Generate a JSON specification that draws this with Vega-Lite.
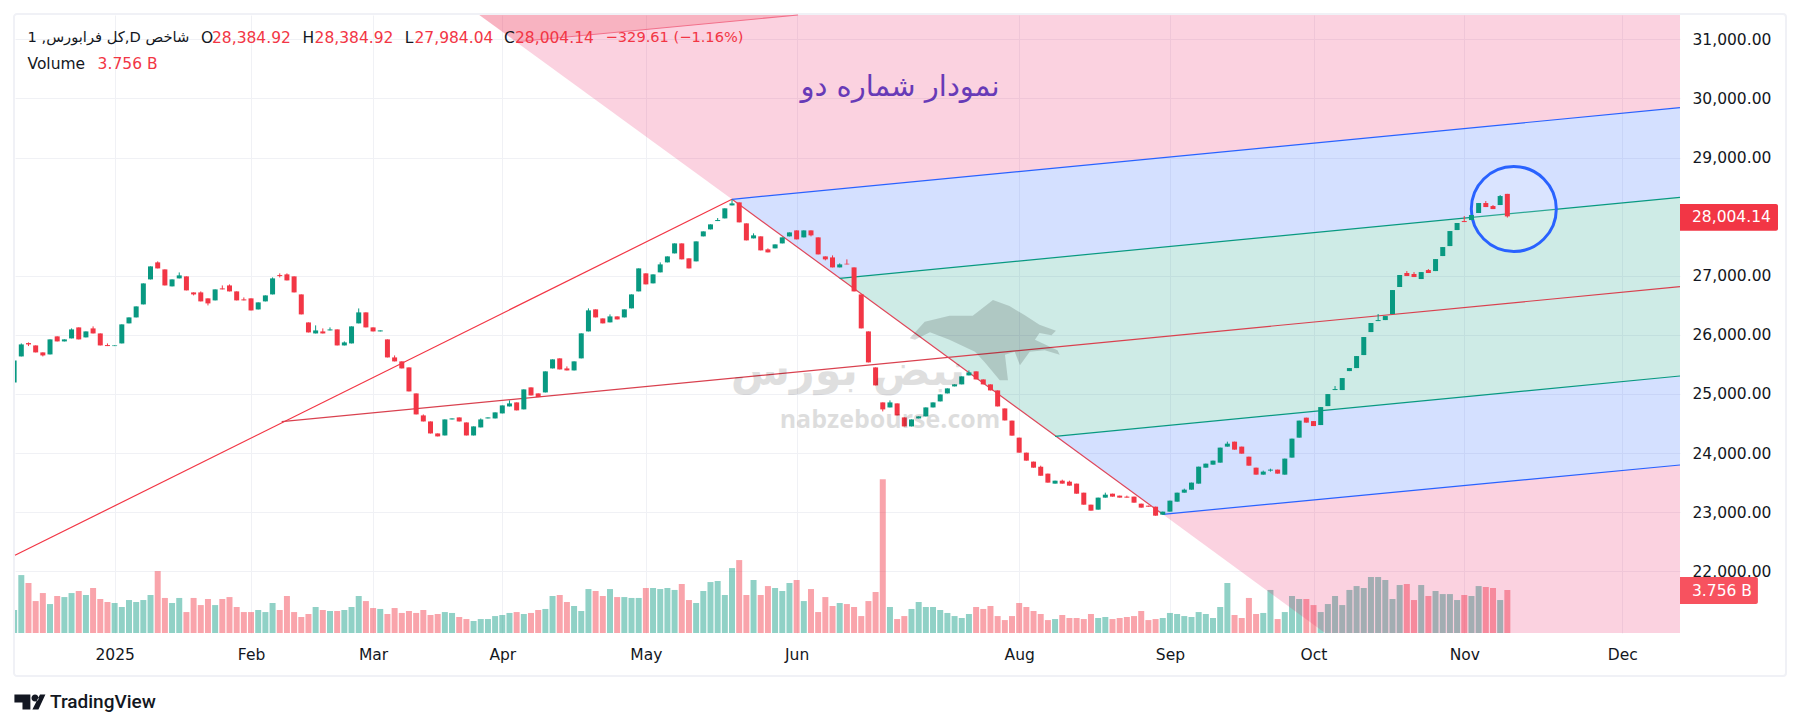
{"$schema":"https://vega.github.io/schema/vega-lite/v6.json","width":1665,"height":618,"autosize":"none","padding":{"left":15,"top":15,"right":120,"bottom":95},"background":"#ffffff",
"config":{"view":{"stroke":null},"font":"DejaVu Sans"},
"datasets":{
"candles":[
{"i":0,"o":25195,"h":25567,"l":25195,"c":25567,"v":2.01},{"i":1,"o":25635,"h":25855,"l":25635,"c":25838,"v":5.06},{"i":2,"o":25861,"h":25872,"l":25810,"c":25838,"v":4.37},{"i":3,"o":25821,"h":25821,"l":25703,"c":25703,"v":2.79},{"i":4,"o":25703,"h":25703,"l":25635,"c":25652,"v":3.49},{"i":5,"o":25669,"h":25923,"l":25669,"c":25923,"v":2.53},{"i":6,"o":25974,"h":25974,"l":25889,"c":25889,"v":3.23},{"i":7,"o":25889,"h":25923,"l":25889,"c":25923,"v":3.14},{"i":8,"o":25940,"h":26109,"l":25940,"c":26092,"v":3.49},{"i":9,"o":26126,"h":26126,"l":25923,"c":25923,"v":3.67},
{"i":10,"o":25957,"h":26058,"l":25957,"c":26058,"v":3.32},{"i":11,"o":26109,"h":26143,"l":26024,"c":26024,"v":3.93},{"i":12,"o":26024,"h":26024,"l":25821,"c":25821,"v":2.97},{"i":13,"o":25827,"h":25855,"l":25810,"c":25810,"v":2.71},{"i":14,"o":25810,"h":25821,"l":25810,"c":25821,"v":2.62},{"i":15,"o":25855,"h":26177,"l":25855,"c":26177,"v":2.27},{"i":16,"o":26194,"h":26295,"l":26194,"c":26295,"v":2.88},{"i":17,"o":26295,"h":26481,"l":26295,"c":26481,"v":2.71},{"i":18,"o":26515,"h":26870,"l":26515,"c":26870,"v":2.88},{"i":19,"o":26938,"h":27158,"l":26938,"c":27158,"v":3.32},
{"i":20,"o":27226,"h":27243,"l":27124,"c":27124,"v":5.41},{"i":21,"o":27107,"h":27107,"l":26836,"c":26836,"v":3.06},{"i":22,"o":26820,"h":26938,"l":26820,"c":26938,"v":2.62},{"i":23,"o":26955,"h":27056,"l":26955,"c":27006,"v":3.06},{"i":24,"o":26989,"h":26989,"l":26752,"c":26752,"v":1.83},{"i":25,"o":26718,"h":26718,"l":26667,"c":26684,"v":3.06},{"i":26,"o":26718,"h":26735,"l":26566,"c":26566,"v":2.44},{"i":27,"o":26617,"h":26617,"l":26498,"c":26532,"v":2.97},{"i":28,"o":26583,"h":26769,"l":26583,"c":26769,"v":2.44},{"i":29,"o":26786,"h":26836,"l":26769,"c":26769,"v":2.97},
{"i":30,"o":26836,"h":26853,"l":26735,"c":26735,"v":3.14},{"i":31,"o":26735,"h":26735,"l":26583,"c":26583,"v":2.27},{"i":32,"o":26600,"h":26633,"l":26583,"c":26583,"v":1.83},{"i":33,"o":26617,"h":26617,"l":26413,"c":26413,"v":1.83},{"i":34,"o":26430,"h":26549,"l":26430,"c":26549,"v":2.01},{"i":35,"o":26566,"h":26667,"l":26566,"c":26667,"v":1.83},{"i":36,"o":26684,"h":26972,"l":26684,"c":26955,"v":2.62},{"i":37,"o":27011,"h":27040,"l":26972,"c":26994,"v":2.01},{"i":38,"o":27023,"h":27040,"l":26921,"c":26921,"v":3.23},{"i":39,"o":26989,"h":26989,"l":26718,"c":26718,"v":1.83},
{"i":40,"o":26684,"h":26684,"l":26346,"c":26346,"v":1.4},{"i":41,"o":26210,"h":26210,"l":26041,"c":26041,"v":1.66},{"i":42,"o":26024,"h":26160,"l":26024,"c":26075,"v":2.27},{"i":43,"o":26058,"h":26109,"l":26024,"c":26024,"v":2.01},{"i":44,"o":26075,"h":26126,"l":26075,"c":26092,"v":1.92},{"i":45,"o":26092,"h":26092,"l":25821,"c":25821,"v":1.92},{"i":46,"o":25821,"h":25889,"l":25821,"c":25872,"v":2.01},{"i":47,"o":25855,"h":26143,"l":25855,"c":26143,"v":2.27},{"i":48,"o":26194,"h":26447,"l":26194,"c":26380,"v":3.23},{"i":49,"o":26380,"h":26380,"l":26126,"c":26126,"v":2.79},
{"i":50,"o":26126,"h":26126,"l":26058,"c":26058,"v":2.18},{"i":51,"o":26058,"h":26075,"l":26058,"c":26075,"v":2.1},{"i":52,"o":25923,"h":25923,"l":25618,"c":25618,"v":1.66},{"i":53,"o":25618,"h":25652,"l":25551,"c":25551,"v":2.18},{"i":54,"o":25551,"h":25551,"l":25432,"c":25432,"v":1.75},{"i":55,"o":25449,"h":25449,"l":25043,"c":25043,"v":1.92},{"i":56,"o":25009,"h":25009,"l":24654,"c":24654,"v":1.75},{"i":57,"o":24637,"h":24654,"l":24535,"c":24535,"v":2.01},{"i":58,"o":24535,"h":24535,"l":24332,"c":24332,"v":1.57},{"i":59,"o":24332,"h":24332,"l":24282,"c":24282,"v":1.66},
{"i":60,"o":24298,"h":24569,"l":24298,"c":24569,"v":1.83},{"i":61,"o":24569,"h":24586,"l":24569,"c":24586,"v":1.75},{"i":62,"o":24603,"h":24603,"l":24535,"c":24535,"v":1.4},{"i":63,"o":24518,"h":24518,"l":24298,"c":24298,"v":1.22},{"i":64,"o":24298,"h":24451,"l":24298,"c":24451,"v":1.05},{"i":65,"o":24434,"h":24586,"l":24434,"c":24569,"v":1.22},{"i":66,"o":24586,"h":24603,"l":24586,"c":24603,"v":1.22},{"i":67,"o":24586,"h":24688,"l":24586,"c":24688,"v":1.48},{"i":68,"o":24671,"h":24806,"l":24671,"c":24806,"v":1.57},{"i":69,"o":24789,"h":24891,"l":24789,"c":24840,"v":1.75},
{"i":70,"o":24857,"h":24857,"l":24722,"c":24722,"v":1.83},{"i":71,"o":24739,"h":25077,"l":24739,"c":25077,"v":1.66},{"i":72,"o":25111,"h":25111,"l":24975,"c":24975,"v":1.75},{"i":73,"o":25009,"h":25009,"l":24947,"c":24947,"v":2.01},{"i":74,"o":25026,"h":25382,"l":25026,"c":25382,"v":2.1},{"i":75,"o":25432,"h":25585,"l":25432,"c":25585,"v":3.23},{"i":76,"o":25602,"h":25602,"l":25415,"c":25415,"v":3.32},{"i":77,"o":25432,"h":25466,"l":25398,"c":25398,"v":2.71},{"i":78,"o":25398,"h":25551,"l":25398,"c":25551,"v":2.36},{"i":79,"o":25602,"h":26025,"l":25602,"c":26025,"v":1.92},
{"i":80,"o":26058,"h":26448,"l":26058,"c":26414,"v":3.84},{"i":81,"o":26431,"h":26431,"l":26295,"c":26295,"v":3.67},{"i":82,"o":26278,"h":26278,"l":26194,"c":26194,"v":3.23},{"i":83,"o":26211,"h":26346,"l":26211,"c":26312,"v":3.84},{"i":84,"o":26312,"h":26312,"l":26261,"c":26261,"v":3.14},{"i":85,"o":26295,"h":26431,"l":26295,"c":26431,"v":3.14},{"i":86,"o":26448,"h":26684,"l":26448,"c":26684,"v":3.06},{"i":87,"o":26735,"h":27124,"l":26735,"c":27124,"v":3.06},{"i":88,"o":27040,"h":27040,"l":26854,"c":26854,"v":3.93},{"i":89,"o":26871,"h":27023,"l":26871,"c":27023,"v":3.93},
{"i":90,"o":27057,"h":27226,"l":27057,"c":27192,"v":3.84},{"i":91,"o":27226,"h":27327,"l":27226,"c":27327,"v":3.93},{"i":92,"o":27378,"h":27547,"l":27378,"c":27547,"v":3.76},{"i":93,"o":27547,"h":27547,"l":27277,"c":27277,"v":4.28},{"i":94,"o":27294,"h":27294,"l":27124,"c":27124,"v":2.88},{"i":95,"o":27243,"h":27581,"l":27243,"c":27581,"v":2.62},{"i":96,"o":27666,"h":27750,"l":27666,"c":27750,"v":3.67},{"i":97,"o":27784,"h":27869,"l":27784,"c":27869,"v":4.45},{"i":98,"o":27925,"h":27976,"l":27925,"c":27942,"v":4.54},{"i":99,"o":27970,"h":28140,"l":27970,"c":28140,"v":3.32},
{"i":100,"o":28190,"h":28292,"l":28190,"c":28224,"v":5.67},{"i":101,"o":28241,"h":28241,"l":27903,"c":27903,"v":6.37},{"i":102,"o":27886,"h":27886,"l":27598,"c":27598,"v":3.32},{"i":103,"o":27632,"h":27717,"l":27632,"c":27683,"v":4.63},{"i":104,"o":27666,"h":27666,"l":27429,"c":27429,"v":3.32},{"i":105,"o":27446,"h":27463,"l":27395,"c":27395,"v":4.1},{"i":106,"o":27463,"h":27530,"l":27463,"c":27530,"v":3.93},{"i":107,"o":27547,"h":27649,"l":27547,"c":27649,"v":3.67},{"i":108,"o":27666,"h":27733,"l":27666,"c":27733,"v":4.37},{"i":109,"o":27767,"h":27767,"l":27615,"c":27615,"v":4.63},
{"i":110,"o":27649,"h":27767,"l":27649,"c":27767,"v":2.79},{"i":111,"o":27767,"h":27767,"l":27666,"c":27683,"v":3.84},{"i":112,"o":27649,"h":27649,"l":27361,"c":27361,"v":1.83},{"i":113,"o":27327,"h":27327,"l":27260,"c":27277,"v":3.14},{"i":114,"o":27310,"h":27344,"l":27141,"c":27141,"v":2.36},{"i":115,"o":27141,"h":27209,"l":27141,"c":27192,"v":2.62},{"i":116,"o":27203,"h":27277,"l":27192,"c":27192,"v":2.53},{"i":117,"o":27141,"h":27141,"l":26735,"c":26735,"v":2.27},{"i":118,"o":26684,"h":26684,"l":26109,"c":26109,"v":1.48},{"i":119,"o":26058,"h":26058,"l":25534,"c":25534,"v":2.79},
{"i":120,"o":25449,"h":25449,"l":25145,"c":25145,"v":3.58},{"i":121,"o":24857,"h":24857,"l":24705,"c":24739,"v":13.44},{"i":122,"o":24772,"h":24891,"l":24772,"c":24857,"v":2.27},{"i":123,"o":24840,"h":24840,"l":24637,"c":24637,"v":1.22},{"i":124,"o":24603,"h":24603,"l":24451,"c":24451,"v":1.48},{"i":125,"o":24451,"h":24569,"l":24451,"c":24569,"v":2.1},{"i":126,"o":24586,"h":24620,"l":24586,"c":24620,"v":2.71},{"i":127,"o":24620,"h":24772,"l":24620,"c":24772,"v":2.27},{"i":128,"o":24772,"h":24857,"l":24772,"c":24857,"v":2.27},{"i":129,"o":24874,"h":24992,"l":24874,"c":24992,"v":2.01},
{"i":130,"o":25009,"h":25094,"l":25009,"c":25094,"v":1.75},{"i":131,"o":25128,"h":25162,"l":25128,"c":25162,"v":1.48},{"i":132,"o":25162,"h":25297,"l":25162,"c":25297,"v":1.31},{"i":133,"o":25314,"h":25398,"l":25314,"c":25365,"v":1.66},{"i":134,"o":25382,"h":25382,"l":25246,"c":25246,"v":2.27},{"i":135,"o":25246,"h":25246,"l":25162,"c":25162,"v":2.1},{"i":136,"o":25162,"h":25162,"l":25060,"c":25060,"v":2.36},{"i":137,"o":25060,"h":25060,"l":24789,"c":24789,"v":1.48},{"i":138,"o":24755,"h":24755,"l":24552,"c":24552,"v":1.13},{"i":139,"o":24549,"h":24549,"l":24295,"c":24295,"v":1.48},
{"i":140,"o":24261,"h":24261,"l":24007,"c":24007,"v":2.62},{"i":141,"o":24007,"h":24007,"l":23872,"c":23872,"v":2.27},{"i":142,"o":23855,"h":23855,"l":23753,"c":23753,"v":1.92},{"i":143,"o":23770,"h":23787,"l":23618,"c":23618,"v":1.66},{"i":144,"o":23652,"h":23652,"l":23500,"c":23500,"v":1.13},{"i":145,"o":23483,"h":23533,"l":23483,"c":23533,"v":1.22},{"i":146,"o":23533,"h":23550,"l":23483,"c":23483,"v":1.57},{"i":147,"o":23516,"h":23533,"l":23449,"c":23449,"v":1.31},{"i":148,"o":23483,"h":23483,"l":23313,"c":23313,"v":1.31},{"i":149,"o":23330,"h":23330,"l":23127,"c":23127,"v":1.22},
{"i":150,"o":23127,"h":23127,"l":23026,"c":23026,"v":1.66},{"i":151,"o":23043,"h":23246,"l":23043,"c":23246,"v":1.31},{"i":152,"o":23246,"h":23330,"l":23246,"c":23296,"v":1.4},{"i":153,"o":23313,"h":23313,"l":23263,"c":23263,"v":1.22},{"i":154,"o":23280,"h":23280,"l":23246,"c":23246,"v":1.31},{"i":155,"o":23263,"h":23280,"l":23246,"c":23246,"v":1.4},{"i":156,"o":23263,"h":23263,"l":23161,"c":23161,"v":1.48},{"i":157,"o":23144,"h":23144,"l":23077,"c":23077,"v":1.92},{"i":158,"o":23110,"h":23110,"l":23093,"c":23093,"v":1.13},{"i":159,"o":23093,"h":23093,"l":22941,"c":22941,"v":1.22},
{"i":160,"o":22958,"h":23009,"l":22958,"c":23009,"v":1.31},{"i":161,"o":23009,"h":23195,"l":23009,"c":23195,"v":1.75},{"i":162,"o":23178,"h":23330,"l":23178,"c":23330,"v":1.66},{"i":163,"o":23330,"h":23398,"l":23330,"c":23381,"v":1.48},{"i":164,"o":23381,"h":23500,"l":23381,"c":23500,"v":1.4},{"i":165,"o":23483,"h":23770,"l":23483,"c":23770,"v":1.83},{"i":166,"o":23753,"h":23821,"l":23753,"c":23821,"v":1.66},{"i":167,"o":23804,"h":23872,"l":23804,"c":23872,"v":1.31},{"i":168,"o":23838,"h":24092,"l":23838,"c":24092,"v":2.27},{"i":169,"o":24109,"h":24193,"l":24109,"c":24159,"v":4.37},
{"i":170,"o":24193,"h":24193,"l":24058,"c":24058,"v":1.57},{"i":171,"o":24109,"h":24109,"l":23990,"c":23990,"v":1.31},{"i":172,"o":23939,"h":23939,"l":23787,"c":23787,"v":3.06},{"i":173,"o":23753,"h":23753,"l":23635,"c":23635,"v":1.66},{"i":174,"o":23635,"h":23703,"l":23635,"c":23686,"v":1.75},{"i":175,"o":23703,"h":23736,"l":23686,"c":23720,"v":3.76},{"i":176,"o":23720,"h":23720,"l":23652,"c":23652,"v":1.22},{"i":177,"o":23635,"h":23906,"l":23635,"c":23906,"v":1.83},{"i":178,"o":23923,"h":24244,"l":23923,"c":24244,"v":3.23},{"i":179,"o":24261,"h":24549,"l":24261,"c":24549,"v":2.97},
{"i":180,"o":24599,"h":24599,"l":24515,"c":24515,"v":2.97},{"i":181,"o":24541,"h":24541,"l":24457,"c":24457,"v":2.44},{"i":182,"o":24474,"h":24778,"l":24474,"c":24778,"v":1.83},{"i":183,"o":24795,"h":24998,"l":24795,"c":24998,"v":2.53},{"i":184,"o":25066,"h":25134,"l":25066,"c":25083,"v":3.23},{"i":185,"o":25066,"h":25269,"l":25066,"c":25269,"v":2.44},{"i":186,"o":25387,"h":25438,"l":25387,"c":25438,"v":3.76},{"i":187,"o":25438,"h":25641,"l":25438,"c":25641,"v":4.1},{"i":188,"o":25658,"h":25963,"l":25658,"c":25963,"v":3.93},{"i":189,"o":26047,"h":26200,"l":26047,"c":26200,"v":4.89},
{"i":190,"o":26233,"h":26352,"l":26233,"c":26250,"v":4.89},{"i":191,"o":26250,"h":26318,"l":26250,"c":26318,"v":4.63},{"i":192,"o":26352,"h":26758,"l":26352,"c":26758,"v":2.97},{"i":193,"o":26809,"h":27012,"l":26809,"c":27012,"v":4.19},{"i":194,"o":27046,"h":27079,"l":26995,"c":26995,"v":4.28},{"i":195,"o":27029,"h":27062,"l":26978,"c":26978,"v":2.88},{"i":196,"o":26944,"h":27062,"l":26944,"c":27062,"v":4.19},{"i":197,"o":27096,"h":27113,"l":27046,"c":27046,"v":3.23},{"i":198,"o":27079,"h":27282,"l":27079,"c":27282,"v":3.67},{"i":199,"o":27333,"h":27485,"l":27333,"c":27485,"v":3.4},
{"i":200,"o":27502,"h":27756,"l":27502,"c":27756,"v":3.4},{"i":201,"o":27773,"h":27892,"l":27773,"c":27892,"v":2.88},{"i":202,"o":27925,"h":28010,"l":27908,"c":27908,"v":3.32},{"i":203,"o":27942,"h":28027,"l":27942,"c":28027,"v":3.23},{"i":204,"o":28061,"h":28230,"l":28061,"c":28230,"v":4.1},{"i":205,"o":28230,"h":28264,"l":28162,"c":28162,"v":4.02},{"i":206,"o":28179,"h":28196,"l":28128,"c":28128,"v":3.93},{"i":207,"o":28196,"h":28365,"l":28196,"c":28348,"v":2.88},{"i":208,"o":28384.92,"h":28384.92,"l":27984.04,"c":28004.14,"v":3.756}
],
"zones":[
{"z":"pink","i":64.8,"lo":31411,"hi":31411,"g":"u"},{"z":"pink","i":100,"lo":28293,"hi":31411,"g":"u"},{"z":"pink","i":232.05,"lo":29843,"hi":31411,"g":"u"},
{"z":"blue","i":100,"lo":28293,"hi":28293,"g":"a"},{"z":"blue","i":115,"lo":26957,"hi":28469,"g":"a"},{"z":"blue","i":232.05,"lo":28327,"hi":29843,"g":"a"},
{"z":"green","i":115,"lo":26957,"hi":26957,"g":"b"},{"z":"green","i":145,"lo":24284,"hi":27309,"g":"b"},{"z":"green","i":232.05,"lo":25304,"hi":28327,"g":"b"},
{"z":"blue","i":145,"lo":24284,"hi":24284,"g":"c"},{"z":"blue","i":160,"lo":22964,"hi":24460,"g":"c"},{"z":"blue","i":232.05,"lo":23798,"hi":25304,"g":"c"},
{"z":"pink","i":160,"lo":22964,"hi":22964,"g":"d"},{"z":"pink","i":182.6,"lo":20956,"hi":23226,"g":"d"},{"z":"pink","i":232.05,"lo":20956,"hi":23798,"g":"d"},
{"z":"rose","i":64.8,"lo":31411,"hi":31411,"g":"e"},{"z":"rose","i":70,"lo":30958,"hi":31411,"g":"e"},{"z":"rose","i":109.2,"lo":31411,"hi":31411,"g":"e"}
],
"lines":[
{"s":"handle","i":0.122,"p":22270},{"s":"handle","i":100,"p":28293},
{"s":"median","i":37.27,"p":24531},{"s":"median","i":232.05,"p":26815},
{"s":"base","i":100,"p":28293},{"s":"base","i":160,"p":22964},
{"s":"upper","i":100,"p":28293},{"s":"upper","i":232.05,"p":29843},
{"s":"uppermid","i":115,"p":26957},{"s":"uppermid","i":232.05,"p":28327},
{"s":"lowermid","i":145,"p":24284},{"s":"lowermid","i":232.05,"p":25304},
{"s":"lower","i":160,"p":22964},{"s":"lower","i":232.05,"p":23798},
{"s":"level2","i":70,"p":30958},{"s":"level2","i":109.2,"p":31411}
]
},
"encoding":{"x":{"field":"i","type":"quantitative","title":null,"scale":{"domain":[0.122,232.05],"nice":false,"zero":false,"padding":0},
"axis":{"values":[14,33,50,68,88,109,140,161,181,202,224],"labelExpr":"datum.value==14?'2025':datum.value==33?'Feb':datum.value==50?'Mar':datum.value==68?'Apr':datum.value==88?'May':datum.value==109?'Jun':datum.value==140?'Aug':datum.value==161?'Sep':datum.value==181?'Oct':datum.value==202?'Nov':'Dec'","grid":true,"gridColor":"#f0f1f5","gridWidth":1,"ticks":false,"domain":false,"labelFont":"DejaVu Sans","labelFontSize":15.5,"labelColor":"#131722","labelPadding":14,"labelFlush":false,"labelOverlap":false,"labelBound":false}}},
"layer":[
{"data":{"name":"candles"},"mark":{"type":"bar","orient":"vertical","size":6,"opacity":0.45,"clip":true},
"encoding":{"y":{"field":"v","type":"quantitative","title":null,"stack":null,"axis":null,"scale":{"domain":[0,53.98],"nice":false,"zero":true}},"color":{"condition":{"test":"datum.c>=datum.o","value":"#089981"},"value":"#f23645"}}},
{"encoding":{},"layer":[
{"data":{"values":[{"i":-0.017,"i2":246.81,"p":31428,"p2":20229}]},"mark":{"type":"rect","fillOpacity":0,"stroke":"#f0f1f6","strokeWidth":2,"cornerRadius":3},
"encoding":{"x2":{"field":"i2"},"y":{"field":"p","type":"quantitative","title":null,"scale":{"domain":[20956,31411],"nice":false,"zero":false},"axis":{"orient":"right","values":[22000,23000,24000,25000,26000,27000,29000,30000,31000],"format":",.2f","grid":true,"gridColor":"#f0f1f5","gridWidth":1,"ticks":false,"domain":false,"labelFont":"DejaVu Sans","labelFontSize":15.5,"labelColor":"#131722","labelPadding":12,"labelOverlap":false,"labelBound":false,"labelFlush":false}},"y2":{"field":"p2"}}},
{"data":{"name":"zones"},"mark":{"type":"area","orient":"vertical","interpolate":"linear","line":false},
"encoding":{"y":{"field":"lo","type":"quantitative","title":null,"stack":null},"y2":{"field":"hi"},"detail":{"field":"g"},"color":{"field":"z","type":"nominal","legend":null,"scale":{"domain":["pink","blue","green","rose","handle","median","base","upper","uppermid","lowermid","lower","level2"],"range":["#e91e63","#2962ff","#089981","#f23645","#f23645","#d9414f","#e0475a","#2962ff","#089981","#089981","#2962ff","#f2708a"]}},"opacity":{"field":"z","type":"nominal","legend":null,"scale":{"domain":["pink","blue","green","rose"],"range":[0.2,0.2,0.2,0.15]}}}},
{"data":{"name":"lines"},"mark":{"type":"line","strokeWidth":1.2,"interpolate":"linear"},
"encoding":{"y":{"field":"p","type":"quantitative","title":null},"detail":{"field":"s"},"color":{"field":"s","type":"nominal","legend":null,"scale":{"domain":["pink","blue","green","rose","handle","median","base","upper","uppermid","lowermid","lower","level2"],"range":["#e91e63","#2962ff","#089981","#f23645","#f23645","#d9414f","#e0475a","#2962ff","#089981","#089981","#2962ff","#f2708a"]}}}},
{"mark":{"type":"rule","color":"#f23645","strokeDash":[1,3],"strokeWidth":1},"encoding":{"x":null,"y":{"datum":28004.14,"type":"quantitative","title":null}}},
{"data":{"values":[{"i":208.9,"p":28129}]},"mark":{"type":"point","shape":"circle","size":7225,"fill":"#ffffff","fillOpacity":0.15,"stroke":"#2962ff","strokeWidth":3,"opacity":1,"filled":false},"encoding":{"y":{"field":"p","type":"quantitative","title":null}}},
{"data":{"name":"candles"},"mark":{"type":"rule","strokeWidth":1,"clip":true},"encoding":{"y":{"field":"l","type":"quantitative","title":null},"y2":{"field":"h"},"color":{"condition":{"test":"datum.c>=datum.o","value":"#089981"},"value":"#f23645"}}},
{"data":{"name":"candles"},"mark":{"type":"bar","orient":"vertical","size":5,"clip":true},"encoding":{"y":{"field":"o","type":"quantitative","title":null,"stack":null},"y2":{"field":"c"},"color":{"condition":{"test":"datum.c>=datum.o","value":"#089981"},"value":"#f23645"}}},
{"data":{"values":[{"i":135.2,"p":25828}]},"mark":{"type":"point","filled":true,"size":22500,"color":"#000000","opacity":0.15,"shape":"M-1,-.09L-.8,-.31L-.47,-.39L-.16,-.39L.11,-.6L.33,-.52L.53,-.4L.73,-.27L.95,-.19L.89,-.13L.73,-.16L.67,-.07L.97,.07L1,.13L.8,.07L.6,.09L.47,.27L.4,.09L.27,.13L.31,.47L.2,.47L0,.23L-.13,.09L-.47,-.07L-.73,-.17L-.93,-.07Z"},"encoding":{"y":{"field":"p","type":"quantitative","title":null}}},
{"data":{"values":[{"i":116.15,"p":25372,"t":"نبض بورس"}]},"mark":{"type":"text","font":"DejaVu Sans","fontWeight":"bold","fontSize":43,"color":"#000000","opacity":0.12,"align":"center","baseline":"middle"},"encoding":{"y":{"field":"p","type":"quantitative","title":null},"text":{"field":"t"}}},
{"data":{"values":[{"i":122,"p":24560,"t":"nabzebourse.com"}]},"mark":{"type":"text","font":"Open Sans","fontWeight":"bold","fontSize":25,"color":"#000000","opacity":0.13,"align":"center","baseline":"middle"},"encoding":{"y":{"field":"p","type":"quantitative","title":null},"text":{"field":"t"}}},
{"data":{"values":[{"i":123.4,"p":30193,"t":"نمودار شماره دو"}]},"mark":{"type":"text","font":"DejaVu Sans","fontSize":29,"color":"#673ab7","align":"center","baseline":"middle"},"encoding":{"y":{"field":"p","type":"quantitative","title":null},"text":{"field":"t"}}},
{"data":{"values":[{"i":1.86,"p":31017,"t":"1 ,کل فرابورس,D شاخص"}]},"mark":{"type":"text","font":"DejaVu Sans","fontSize":14.7,"color":"#131722","align":"left","baseline":"middle"},"encoding":{"y":{"field":"p","type":"quantitative","title":null},"text":{"field":"t"}}},
{"data":{"values":[{"i":26.03,"p":31017,"t":"O"},{"i":40.17,"p":31017,"t":"H"},{"i":54.41,"p":31017,"t":"L"},{"i":68.24,"p":31017,"t":"C"},{"i":1.86,"p":30582,"t":"Volume"}]},"mark":{"type":"text","font":"DejaVu Sans","fontSize":15.5,"color":"#131722","align":"left","baseline":"middle"},"encoding":{"y":{"field":"p","type":"quantitative","title":null},"text":{"field":"t"}}},
{"data":{"values":[{"i":27.56,"p":31017,"t":"28,384.92"},{"i":41.85,"p":31017,"t":"28,384.92"},{"i":55.77,"p":31017,"t":"27,984.04"},{"i":69.77,"p":31017,"t":"28,004.14"},{"i":11.63,"p":30582,"t":"3.756 B"}]},"mark":{"type":"text","font":"DejaVu Sans","fontSize":15.5,"color":"#f23645","align":"left","baseline":"middle"},"encoding":{"y":{"field":"p","type":"quantitative","title":null},"text":{"field":"t"}}},
{"data":{"values":[{"i":82.39,"p":31017,"t":"−329.61 (−1.16%)"}]},"mark":{"type":"text","font":"DejaVu Sans","fontSize":14.6,"color":"#f23645","align":"left","baseline":"middle"},"encoding":{"y":{"field":"p","type":"quantitative","title":null},"text":{"field":"t"}}},
{"data":{"values":[{"i":5,"p":19789,"t":"TradingView"}]},"mark":{"type":"text","font":"Roboto","fontSize":19,"fontWeight":500,"color":"#131722","align":"left","baseline":"middle"},"encoding":{"y":{"field":"p","type":"quantitative","title":null},"text":{"field":"t"}}},
{"data":{"values":[{"i":232.05,"i2":245.7,"p":28214,"p2":27762}]},"mark":{"type":"rect","color":"#f23645","cornerRadiusTopRight":2,"cornerRadiusBottomRight":2},"encoding":{"x2":{"field":"i2"},"y":{"field":"p","type":"quantitative","title":null},"y2":{"field":"p2"}}},
{"data":{"values":[{"i":232.05,"i2":242.9,"p":21903,"p2":21446}]},"mark":{"type":"rect","color":"#f7525f","cornerRadiusTopRight":2,"cornerRadiusBottomRight":2},"encoding":{"x2":{"field":"i2"},"y":{"field":"p","type":"quantitative","title":null},"y2":{"field":"p2"}}},
{"data":{"values":[{"i":233.72,"p":27990,"t":"28,004.14"},{"i":233.72,"p":21672,"t":"3.756 B"}]},"mark":{"type":"text","font":"DejaVu Sans","fontSize":15.5,"color":"#ffffff","align":"left","baseline":"middle"},"encoding":{"y":{"field":"p","type":"quantitative","title":null},"text":{"field":"t"}}},
{"data":{"values":[{"i":2.2,"p":19789}]},"mark":{"type":"point","filled":true,"size":961,"color":"#131722","opacity":1,"shape":"M-1,-.48L.03,-.48L.03,.48L-.48,.48L-.48,.03L-1,.03ZM.1,-.26A.23,.23 0 1 0 .56,-.26A.23,.23 0 1 0 .1,-.26ZM.65,-.48L1,-.48L.55,.48L.16,.48Z"},"encoding":{"y":{"field":"p","type":"quantitative","title":null}}}
]}
],
"resolve":{"scale":{"y":"independent"},"axis":{"y":"independent"}}
}
